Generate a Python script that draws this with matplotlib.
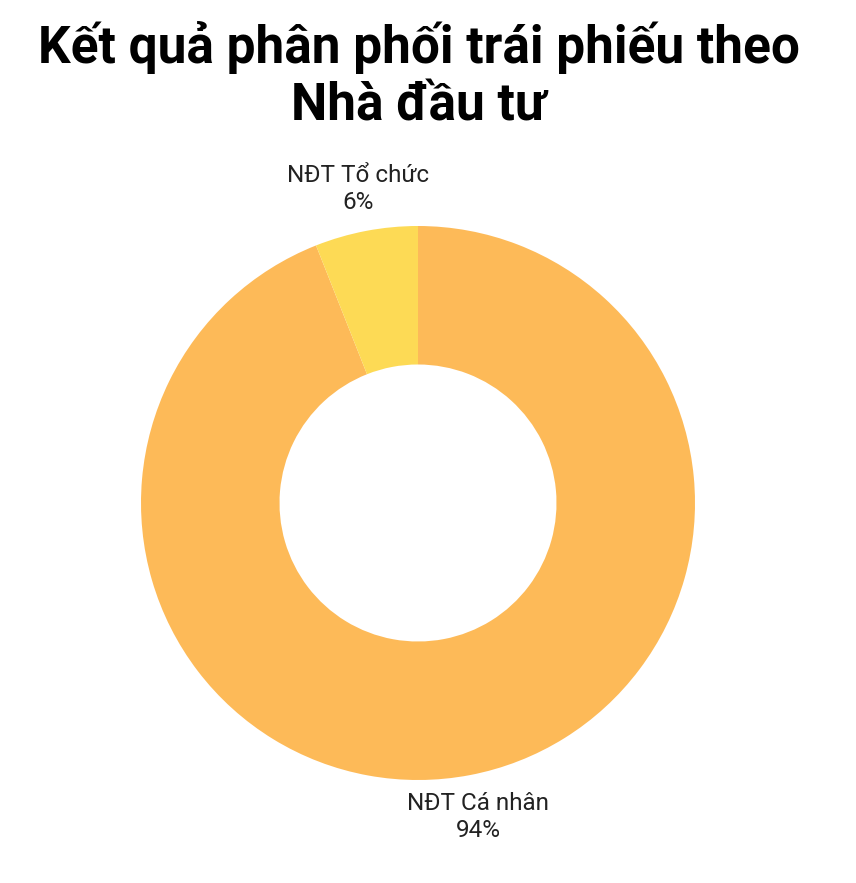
import matplotlib
matplotlib.use("Agg")
import matplotlib.pyplot as plt
import numpy as np

title = "Kết quả phân phối trái phiếu theo\nNhà đầu tư"
categories = ["NĐT Cá nhân", "NĐT Tổ chức"]
shares = [94, 6]
colors = ["#FDBA58", "#FDDA55"]

W, H = 856, 883
fig = plt.figure(figsize=(W / 100, H / 100), dpi=100)
fig.patch.set_facecolor("white")

# donut axes: centre (418, 503) px, outer radius 277 px
cx, cy, r = 418, 503, 277
ax = fig.add_axes([(cx - r) / W, (H - cy - r) / H, 2 * r / W, 2 * r / H])
wedges, _ = ax.pie(shares, colors=colors, startangle=90, counterclock=False,
                   radius=1, wedgeprops=dict(width=0.5, linewidth=0))
ax.set_xlim(-1, 1)
ax.set_ylim(-1, 1)
ax.set_aspect("equal")
ax.axis("off")

# labels centred just outside each wedge's mid-angle
for w, name, val in zip(wedges, categories, shares):
    ang = np.deg2rad((w.theta1 + w.theta2) / 2)
    d = 1.155
    ax.text(d * np.cos(ang), d * np.sin(ang), f"{name}\n{val}%",
            ha="center", va="center", fontsize=17.5, family="Roboto",
            color="#222222", linespacing=1.2, clip_on=False)

fig.text(0.4895, 1 - 76 / H, title, ha="center", va="center", fontsize=37,
         fontweight="bold", family="Roboto", color="black", linespacing=1.2)

fig.savefig("out.png", dpi=100)
